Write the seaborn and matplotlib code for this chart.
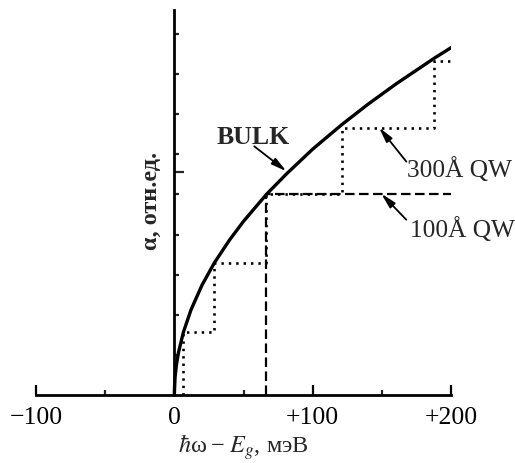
import numpy as np
import matplotlib
matplotlib.use("Agg")
import matplotlib.pyplot as plt
import seaborn as sns
import pandas as pd

# ---- data ----
bulk_x = [0, 0.5, 1.5, 3, 6.5, 12, 20, 29, 40, 50, 66.5, 81, 100, 121, 140, 160, 188, 200]
bulk_y = [0, 0.43, 0.75, 1.06, 1.56, 2.12, 2.74, 3.30, 3.87, 4.33, 5.00, 5.51, 6.13, 6.74, 7.25, 7.75, 8.40, 8.66]

qw300_edges = [6.5, 29, 66.5, 121, 188, 200]
qw300_levels = [1.575, 3.30, 5.00, 6.65, 8.33]

qw100_edges = [66.5, 200]
qw100_levels = [5.00]

xtick_pos = [-100, 0, 100, 200]
xtick_labels = ["\u2212100", "0", "+100", "+200"]
xminor_pos = [-50, 50, 150]
ytick_pos = [1, 2, 3, 4, 5, 6, 7, 8, 9]


def step_corners(edges, levels):
    xs, ys = [edges[0]], [0.0]
    for i, lv in enumerate(levels):
        xs += [edges[i], edges[i + 1]]
        ys += [lv, lv]
    return xs, ys


sns.set_style("white")
plt.rcParams["font.family"] = ["Liberation Serif", "DejaVu Serif"]
plt.rcParams["mathtext.fontset"] = "stix"

fig = plt.figure(figsize=(5.15, 4.63), dpi=100)
ax = fig.add_axes([36 / 515, 1 - 395 / 463, 415 / 515, 385 / 463])

# bulk curve
df_bulk = pd.DataFrame({"x": bulk_x, "y": bulk_y})
sns.lineplot(data=df_bulk, x="x", y="y", ax=ax, color="black", lw=2.4,
             sort=False, estimator=None, solid_capstyle="round")

# 100 A QW (dashed)
x1, y1 = step_corners(qw100_edges, qw100_levels)
df100 = pd.DataFrame({"x": x1, "y": y1})
sns.lineplot(data=df100, x="x", y="y", ax=ax, color="black", lw=1.6,
             sort=False, estimator=None, linestyle=(0, (4.3, 2.0)))

# 300 A QW (dotted)
x3, y3 = step_corners(qw300_edges, qw300_levels)
df300 = pd.DataFrame({"x": x3, "y": y3})
sns.lineplot(data=df300, x="x", y="y", ax=ax, color="black", lw=1.9,
             sort=False, estimator=None, linestyle=(0, (0.9, 1.9)))

ax.set_xlim(-100, 200)
ax.set_ylim(0, 9.6)

for s in ["top", "right"]:
    ax.spines[s].set_visible(False)
ax.spines["left"].set_position(("data", 0))
ax.spines["left"].set_linewidth(2.0)
ax.spines["bottom"].set_linewidth(2.0)
ax.spines["left"].set_color("black")
ax.spines["bottom"].set_color("black")

ax.set_xticks(xtick_pos)
ax.set_xticklabels(xtick_labels)
ax.set_xticks(xminor_pos, minor=True)
ax.set_yticks(ytick_pos)
ax.set_yticklabels([])
ax.set_yticks([5.55], minor=True)

ax.tick_params(axis="x", which="major", direction="in", length=7, width=1.6,
               labelsize=18.5, pad=9, colors="black", bottom=True)
ax.tick_params(axis="x", which="minor", direction="in", length=3.5, width=1.6,
               bottom=True)
ax.tick_params(axis="y", which="major", direction="in", length=3.8, width=1.6,
               left=True)
ax.tick_params(axis="y", which="minor", direction="in", length=7.5, width=1.6,
               left=True)

ax.set_xlabel("$\\hbar$\u03c9\u2009\u2212\u2009$E_g$, мэВ", fontsize=17.5)
ax.xaxis.set_label_coords(0.5, -0.097)
ax.set_ylabel("")
fig.text(151 / 515, 1 - 201 / 463, "\u03b1, отн.ед.", rotation=90,
         ha="center", va="center", fontsize=17.5, fontweight="bold")

# annotations
arrow = dict(arrowstyle="-|>,head_length=0.9,head_width=0.22", lw=1.3,
             color="black", shrinkA=0, shrinkB=0)
ax.text(57.1, 6.25, "BULK", ha="center", va="baseline", fontsize=18.5,
        fontweight="bold")
ax.annotate("", xy=(81, 5.58), xytext=(57.8, 6.2), arrowprops=arrow)

ax.text(168.5, 5.43, "300Å QW", ha="left", va="baseline", fontsize=18.3,
        clip_on=False)
ax.annotate("", xy=(148, 6.67), xytext=(167.7, 5.82), arrowprops=arrow,
            annotation_clip=False)

ax.text(170, 3.93, "100Å QW", ha="left", va="baseline", fontsize=18.3,
        clip_on=False)
ax.annotate("", xy=(149.6, 5.02), xytext=(167.7, 4.37), arrowprops=arrow,
            annotation_clip=False)

fig.savefig("out.png", dpi=100)
